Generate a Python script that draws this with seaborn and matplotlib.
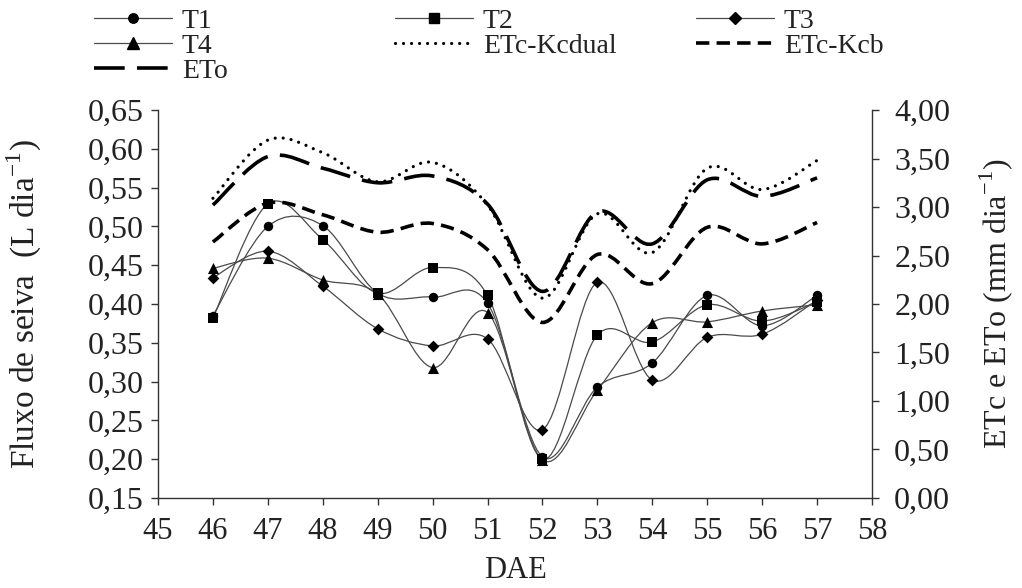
import seaborn as sns
import matplotlib.pyplot as plt
import numpy as np
from matplotlib.path import Path
from matplotlib.patches import PathPatch
from matplotlib.lines import Line2D
from matplotlib.ticker import FuncFormatter, MultipleLocator

# Values
dae = [46, 47, 48, 49, 50, 51, 52, 53, 54, 55, 56, 57]

# sap flow per treatment (L dia-1), left axis
t1 = [0.385, 0.500, 0.501, 0.414, 0.409, 0.401, 0.203, 0.293, 0.324, 0.411, 0.372, 0.411]
t2 = [0.382, 0.529, 0.483, 0.414, 0.447, 0.411, 0.200, 0.360, 0.351, 0.399, 0.378, 0.403]
t3 = [0.434, 0.468, 0.423, 0.368, 0.346, 0.355, 0.238, 0.428, 0.302, 0.357, 0.361, 0.405]
t4 = [0.446, 0.459, 0.431, 0.413, 0.318, 0.389, 0.199, 0.289, 0.376, 0.377, 0.391, 0.399]

# evapotranspiration (mm dia-1), right axis
etc_kcdual = [3.09, 3.69, 3.56, 3.26, 3.46, 3.02, 2.06, 2.93, 2.53, 3.40, 3.18, 3.48]
etc_kcb = [2.64, 3.04, 2.92, 2.74, 2.83, 2.56, 1.81, 2.51, 2.21, 2.79, 2.62, 2.84]
eto = [3.02, 3.52, 3.40, 3.25, 3.32, 3.03, 2.13, 2.95, 2.62, 3.28, 3.11, 3.30]


def smooth_path(x, y):
    # Excel-like "smoothed line": cubic Bezier segments passing through each point
    pts = np.column_stack([x, y]).astype(float)
    ext = np.vstack([pts[0], pts, pts[-1]])
    verts = [pts[0]]
    codes = [Path.MOVETO]
    for i in range(len(pts) - 1):
        p0, p1, p2, p3 = ext[i], ext[i + 1], ext[i + 2], ext[i + 3]
        verts += [p1 + (p2 - p0) / 6, p2 - (p3 - p1) / 6, p2]
        codes += [Path.CURVE4] * 3
    return Path(verts, codes)


def comma_fmt(v, pos):
    return f"{v:.2f}".replace(".", ",")


def create_chart():
    sns.set_theme(style="white")
    plt.rcParams["font.family"] = ["Liberation Serif", "DejaVu Serif"]
    plt.rcParams["mathtext.fontset"] = "custom"
    plt.rcParams["mathtext.rm"] = "Liberation Serif"

    fig = plt.figure(figsize=(10.22, 5.88), dpi=100)
    fig.subplots_adjust(left=0.1546, right=0.8532, top=0.8129, bottom=0.1531)
    ax = fig.add_subplot(111)
    ax2 = ax.twinx()

    tcol = "#4a4a4a"
    treat = [
        ("T1", t1, "o", 6.8),
        ("T2", t2, "s", 7.0),
        ("T3", t3, "D", 6.0),
        ("T4", t4, "^", 8.0),
    ]
    handles = {}
    for name, vals, mk, ms in treat:
        ax.add_patch(PathPatch(smooth_path(dae, vals), fill=False,
                               edgecolor=tcol, lw=0.9, zorder=3))
        sns.scatterplot(x=dae, y=vals, marker=mk, s=ms ** 2, color="black",
                        edgecolor="black", linewidth=0, ax=ax, zorder=5, legend=False)
        handles[name] = Line2D([], [], color=tcol, lw=0.9, marker=mk, ms=ms,
                               mfc="black", mec="black")

    et_series = [
        ("ETc-Kcdual", etc_kcdual, 2.3, (0, (0.01, 2.5)), "round"),
        ("ETc-Kcb", etc_kcb, 2.6, (0, (3.7, 2.0)), "butt"),
        ("ETo", eto, 2.6, (0, (8.5, 3.4)), "butt"),
    ]
    for name, vals, lw, ls, cap in et_series:
        ax2.add_patch(PathPatch(smooth_path(dae, vals), fill=False, edgecolor="black",
                                lw=lw, linestyle=ls, capstyle=cap, zorder=4))
        handles[name] = Line2D([], [], color="black", lw=lw, linestyle=ls,
                               dash_capstyle=cap)

    # axes
    ax.set_xlim(45, 58)
    ax.set_ylim(0.15, 0.65)
    ax2.set_ylim(0, 4)
    ax.xaxis.set_major_locator(MultipleLocator(1))
    ax.yaxis.set_major_locator(MultipleLocator(0.05))
    ax2.yaxis.set_major_locator(MultipleLocator(0.5))
    ax.yaxis.set_major_formatter(FuncFormatter(comma_fmt))
    ax2.yaxis.set_major_formatter(FuncFormatter(comma_fmt))

    axcol = "#333333"
    for a in (ax, ax2):
        for s in a.spines.values():
            s.set_visible(False)
            s.set_color(axcol)
            s.set_linewidth(1.0)
    ax.spines["left"].set_visible(True)
    ax.spines["bottom"].set_visible(True)
    ax2.spines["right"].set_visible(True)
    ax.grid(False)
    ax2.grid(False)

    txtcol = "#222222"
    ax.tick_params(axis="x", bottom=True, direction="out", length=5, width=1,
                   color=axcol, labelsize=22, pad=9, labelcolor=txtcol)
    ax.tick_params(axis="y", left=True, direction="out", length=5, width=1,
                   color=axcol, labelsize=23, pad=5, labelcolor=txtcol)
    ax2.tick_params(axis="y", right=True, direction="out", length=5, width=1,
                    color=axcol, labelsize=23, pad=11, labelcolor=txtcol)

    ax.set_xlabel("DAE", fontsize=22, color=txtcol)
    ax.xaxis.set_label_coords(0.5, -0.15)
    ax.set_ylabel(r"Fluxo de seiva  (L dia$^{\mathregular{-1}}$)", fontsize=24, color=txtcol)
    ax.yaxis.set_label_coords(-0.16, 0.5)
    ax2.set_ylabel(r"ETc e ETo (mm dia$^{\mathregular{-1}}$)", fontsize=23, color=txtcol)
    ax2.yaxis.set_label_coords(1.147, 0.5)

    # legend: three columns laid out in rows like the original
    layout = [
        ("T1", 94, 21), ("T2", 395, 21), ("T3", 696, 21),
        ("T4", 94, 46), ("ETc-Kcdual", 395, 46), ("ETc-Kcb", 696, 46),
        ("ETo", 94, 71),
    ]
    for name, px, py in layout:
        fig.legend(handles=[handles[name]], labels=[name], loc="center left",
                   bbox_to_anchor=(px / 1022, 1 - py / 588), frameon=False,
                   fontsize=20, handlelength=2.8, handletextpad=0.36,
                   borderpad=0, borderaxespad=0, labelcolor=txtcol)

    fig.savefig("out.png", dpi=100)
    plt.close(fig)


if __name__ == "__main__":
    create_chart()
